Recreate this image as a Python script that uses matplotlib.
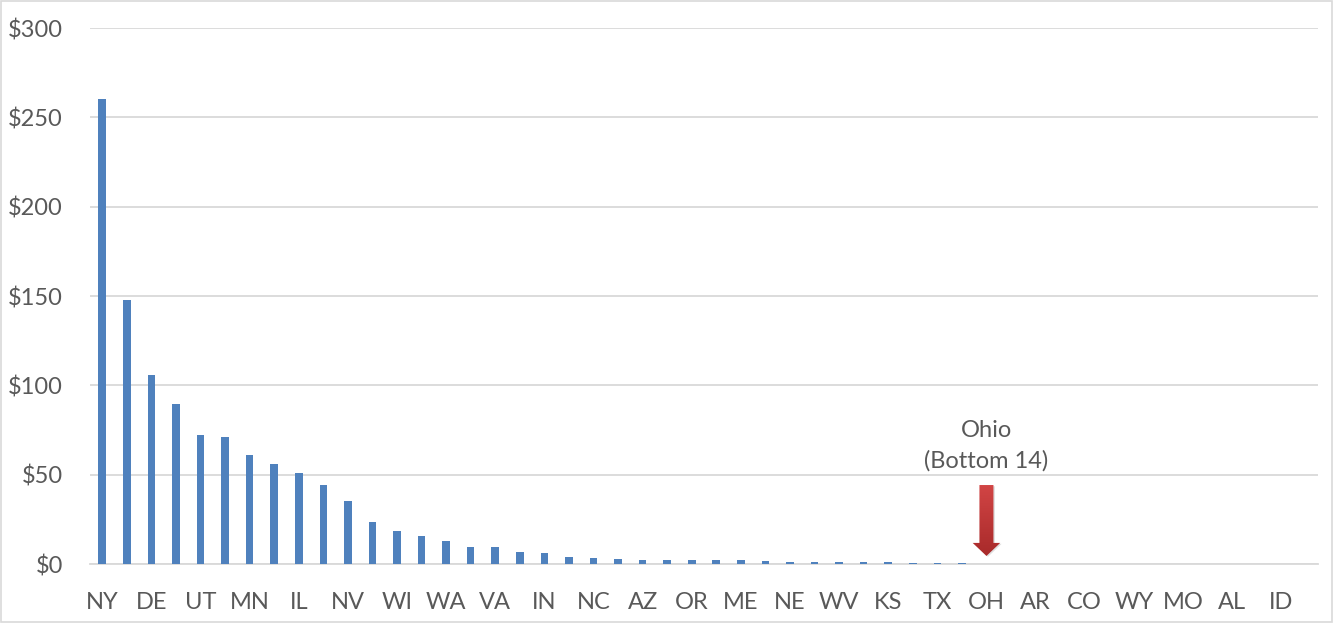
import matplotlib
matplotlib.use("Agg")
import matplotlib.pyplot as plt
import numpy as np
from matplotlib.patches import FancyArrow, Rectangle
from matplotlib.ticker import FuncFormatter

# Per-state amounts, sorted from highest to lowest
states = ["NY", "MA", "DE", "NJ", "UT", "CT", "MN", "MD", "IL", "PA",
          "NV", "CA", "WI", "RI", "WA", "MI", "VA", "FL", "IN", "VT",
          "NC", "HI", "AZ", "GA", "OR", "NM", "ME", "IA", "NE", "KY",
          "WV", "LA", "KS", "SC", "TX", "TN", "OH", "NH", "AR", "AK",
          "CO", "MS", "WY", "MT", "MO", "ND", "AL", "OK", "ID", "SD"]
values = [260, 148, 106, 89.5, 72, 71, 61, 56, 51, 44,
          35.5, 23.7, 18.3, 15.7, 12.7, 9.4, 9.3, 6.7, 6.2, 3.7,
          3.6, 2.8, 2.4, 2.2, 2.2, 2.2, 2.1, 1.7, 1.3, 1.1,
          1.1, 0.9, 0.9, 0.6, 0.4, 0.4, 0.2, 0, 0, 0,
          0, 0, 0, 0, 0, 0, 0, 0, 0, 0]
# Only every other state is labelled on the axis
shown_labels = [s if i % 2 == 0 else "" for i, s in enumerate(states)]
y_ticks = [0, 50, 100, 150, 200, 250, 300]
highlight = "OH"
highlight_lines = ["Ohio", "(Bottom 14)"]

plt.rcParams["font.family"] = ["Lato", "DejaVu Sans"]
text_color = "#595959"
grid_color = "#d9d9d9"
fs = 17

fig = plt.figure(figsize=(13.35, 6.24), dpi=100)
ax = fig.add_axes([90 / 1335, 60 / 624, 1228 / 1335, 536 / 624])

x = np.arange(len(states))
ax.bar(x, values, width=0.31, color="#4F81BD", zorder=3)

ax.set_xlim(-0.5, len(states) - 0.5)
ax.set_ylim(0, 300)
ax.set_yticks(y_ticks)
ax.yaxis.set_major_formatter(FuncFormatter(lambda v, p: f"${v:,.0f}"))
ax.set_xticks(x)
ax.set_xticklabels(shown_labels)

ax.grid(axis="y", color=grid_color, linewidth=1.3, zorder=0)
for side in ["top", "right", "left"]:
    ax.spines[side].set_visible(False)
ax.spines["bottom"].set_color(grid_color)
ax.spines["bottom"].set_linewidth(1.3)
ax.tick_params(axis="both", length=0, labelsize=fs, colors=text_color)
ax.tick_params(axis="y", pad=19.5)
ax.tick_params(axis="x", pad=20)

# Callout label and arrow over the highlighted state
hx = states.index(highlight)
ax.text(hx, 71.2, highlight_lines[0], ha="center", va="baseline", fontsize=fs,
        color=text_color)
ax.text(hx, 53.7, highlight_lines[1], ha="center", va="baseline", fontsize=fs,
        color=text_color)
shadow = FancyArrow(hx + 0.06, 43.5, 0, -39.5, width=0.57, head_width=1.12,
                    head_length=7.3, length_includes_head=True,
                    color="#000000", alpha=0.12, zorder=4, linewidth=0)
ax.add_patch(shadow)
arrow = FancyArrow(hx, 44.2, 0, -39.7, width=0.57, head_width=1.12,
                   head_length=7.3, length_includes_head=True,
                   facecolor="none", edgecolor="none", zorder=5)
ax.add_patch(arrow)
grad = np.linspace(0, 1, 100).reshape(-1, 1)
img = ax.imshow(grad, cmap=matplotlib.colors.LinearSegmentedColormap.from_list(
    "redgrad", ["#a82a2a", "#d24545"]), aspect="auto",
    extent=(hx - 0.6, hx + 0.6, 4.4, 44.3), origin="lower", zorder=5)
img.set_clip_path(arrow)

# Thin frame around the whole chart
fig.patches.append(Rectangle((0.001, 0.003), 0.997, 0.995, transform=fig.transFigure,
                             fill=False, edgecolor=grid_color, linewidth=1.2))

fig.savefig("out.png", dpi=100)
